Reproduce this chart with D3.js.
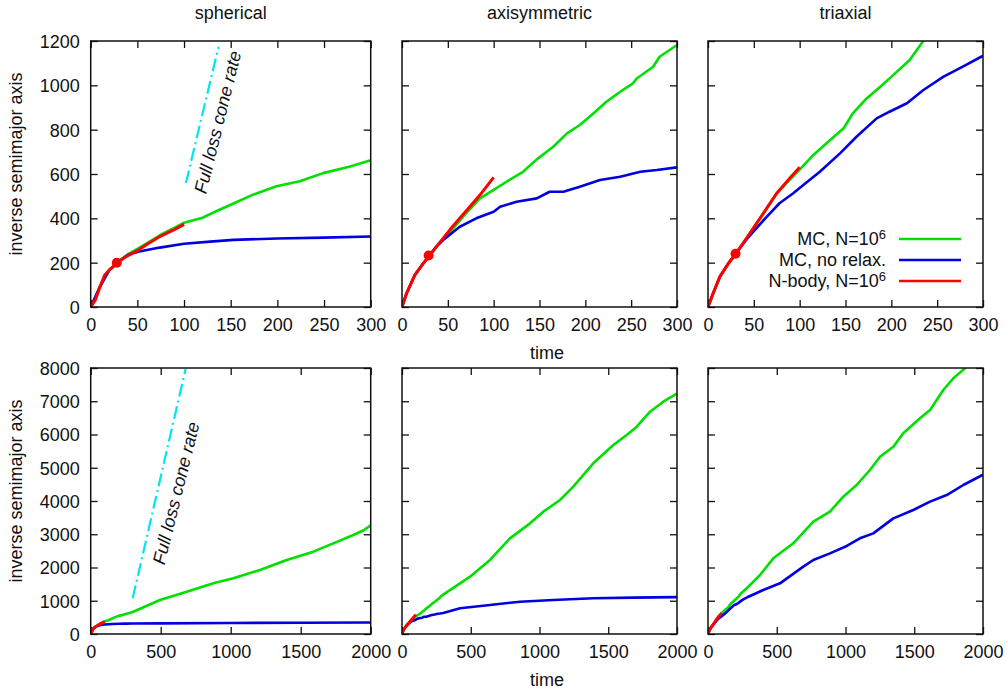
<!DOCTYPE html>
<html><head><meta charset="utf-8">
<script src="https://cdn.jsdelivr.net/npm/d3@7"></script>
<style>
body{margin:0;background:#fff;}
svg{font-family:"Liberation Sans",Arial,Helvetica,sans-serif;}
</style></head><body>
<svg id="c" width="1007" height="689"></svg>
<script>
// ---------- data ----------
const geometries = ["spherical", "axisymmetric", "triaxial"];
const topXTicks = [0, 50, 100, 150, 200, 250, 300];
const topYTicks = [0, 200, 400, 600, 800, 1000, 1200];
const botXTicks = [0, 500, 1000, 1500, 2000];
const botYTicks = [0, 1000, 2000, 3000, 4000, 5000, 6000, 7000, 8000];
const xLabel = "time";
const yLabel = "inverse semimajor axis";
const legendLabels = ["MC, N=10", "MC, no relax.", "N-body, N=10"];
const annotation = "Full loss cone rate";

// spherical
const sphRed = [[0,0],[5,32],[10,92],[15,144],[20,167],[25,185],[28,197],[30,205],[40,232],[50,254],[60,282],[75,320],[90,350],[100,373]];
const sphGreen = [[0,0],[10,92],[20,167],[30,207],[40,238],[50,262],[60,287],[75,326],[90,358],[100,380],[120,403],[135,433],[153,467],[174,507],[199,545],[224,567],[249,604],[278,634],[300,662],[495,1023],[686,1273],[876,1524],[1019,1674],[1209,1925],[1400,2226],[1590,2476],[1733,2727],[1876,2977],[1950,3120],[2000,3270]];
const sphBlue = [[0,0],[10,92],[20,167],[30,205],[40,236],[52,250],[74,268],[100,285],[128,295],[153,303],[200,309],[250,313],[300,318],[500,320],[1000,330],[1500,340],[2000,348]];
const sphMarker = [28, 200];
const sphFlcTop = [[102,559],[137,1174]];
const sphFlcBot = [[300,1075],[678,7970]];

// axisymmetric
const axiRed = [[0,0],[5,62],[14,144],[22,190],[30,232],[40,285],[52,347],[63,400],[74,452],[85,505],[100,585]];
const axiGreen = [[0,0],[5,62],[14,144],[22,190],[30,232],[40,285],[52,336],[70,423],[85,490],[100,528],[114,565],[132,610],[147,666],[165,723],[180,783],[194,821],[209,874],[223,926],[238,971],[252,1009],[256,1031],[274,1084],[281,1129],[300,1182],[495,1724],[640,2226],[785,2877],[931,3328],[1028,3679],[1149,4030],[1246,4431],[1391,5133],[1537,5684],[1634,5985],[1707,6235],[1804,6686],[1900,6987],[2000,7230]];
const axiBlue = [[0,0],[5,62],[14,144],[22,190],[30,232],[37,270],[45,302],[63,362],[81,400],[100,430],[107,452],[125,475],[147,490],[161,520],[176,520],[194,543],[216,573],[238,588],[260,610],[278,618],[300,630],[422,772],[640,872],[858,972],[1100,1023],[1391,1073],[1682,1095],[2000,1110]];
const axiMarker = [29, 232];

// triaxial
const triRed = [[0,0],[5,55],[13,137],[22,195],[30,239],[42,310],[53,377],[64,445],[75,513],[88,575],[100,630]];
const triGreen = [[0,0],[5,55],[13,137],[22,195],[30,239],[42,310],[53,377],[75,513],[100,620],[115,686],[129,738],[148,806],[158,874],[173,941],[188,994],[202,1046],[220,1114],[235,1201],[281,1374],[378,1774],[475,2276],[620,2727],[766,3378],[887,3679],[984,4130],[1081,4481],[1178,4932],[1251,5333],[1348,5634],[1420,6036],[1542,6487],[1615,6737],[1711,7338],[1784,7689],[1869,7990],[1900,8100]];
const triBlue = [[0,0],[5,55],[13,137],[22,195],[30,239],[42,305],[64,407],[78,468],[93,513],[104,550],[122,610],[144,693],[162,768],[184,851],[198,881],[217,919],[235,979],[257,1039],[278,1084],[298,1129],[402,1323],[524,1524],[693,2025],[766,2226],[887,2426],[1009,2647],[1105,2877],[1202,3027],[1348,3478],[1493,3729],[1615,3980],[1736,4180],[1857,4481],[2000,4790]];
const triMarker = [30, 240];

const colors = {green:"#00e000", blue:"#0000e0", red:"#ff0000", cyan:"#00e5ee"};

// ---------- layout ----------
const colLeft = [90.7, 402, 708];
const colWidth = [280, 275, 275];
const rowTop = [41, 368];
const rowHeight = 266;

const svg = d3.select("#c");
const font = 18;

const seriesBy = [
  {green: sphGreen, blue: sphBlue, red: sphRed, marker: sphMarker, flc: [sphFlcTop, sphFlcBot]},
  {green: axiGreen, blue: axiBlue, red: axiRed, marker: axiMarker},
  {green: triGreen, blue: triBlue, red: triRed, marker: triMarker}
];
const rows = [
  {xd:[0,300], yd:[0,1200], xt: topXTicks, yt: topYTicks},
  {xd:[0,2000], yd:[0,8000], xt: botXTicks, yt: botYTicks}
];

rows.forEach((row, r) => {
  geometries.forEach((geo, c) => {
    const L = colLeft[c], T = rowTop[r], W = colWidth[c], H = rowHeight;
    const x = d3.scaleLinear().domain(row.xd).range([L, L + W]);
    const y = d3.scaleLinear().domain(row.yd).range([T + H, T]);
    const g = svg.append("g");
    const cid = `clip${r}${c}`;
    svg.append("clipPath").attr("id", cid).append("rect")
      .attr("x", L).attr("y", T).attr("width", W).attr("height", H);

    // ticks (inward, mirrored)
    const tk = 7;
    const ax = d3.axisBottom(x).tickValues(row.xt).tickSize(-tk).tickFormat(d3.format("d"));
    const gx = g.append("g").attr("transform", `translate(0,${T + H})`).call(ax);
    gx.select(".domain").remove();
    gx.selectAll("text").attr("font-size", font).attr("fill", "#111").attr("y", 24).attr("dy", 0);
    const axT = d3.axisTop(x).tickValues(row.xt).tickSize(-tk).tickFormat("");
    const gxt = g.append("g").attr("transform", `translate(0,${T})`).call(axT);
    gxt.select(".domain").remove();
    const ay = d3.axisLeft(y).tickValues(row.yt).tickSize(-tk).tickPadding(11).tickFormat(c === 0 ? d3.format("d") : "");
    const gy = g.append("g").attr("transform", `translate(${L},0)`).call(ay);
    gy.select(".domain").remove();
    gy.selectAll("text").attr("font-size", font).attr("fill", "#111").attr("dy", "0.36em");
    const ayr = d3.axisRight(y).tickValues(row.yt).tickSize(-tk).tickFormat("");
    const gyr = g.append("g").attr("transform", `translate(${L + W},0)`).call(ayr);
    gyr.select(".domain").remove();
    g.selectAll(".tick line").attr("stroke", "#111").attr("stroke-width", 1.3);

    // data
    const line = d3.line().x(d => x(d[0])).y(d => y(d[1]));
    const s = seriesBy[c];
    const dg = g.append("g").attr("clip-path", `url(#${cid})`);
    dg.append("path").datum(s.green).attr("d", line).attr("fill", "none").attr("stroke", colors.green).attr("stroke-width", 2.6).attr("stroke-linejoin", "round");
    dg.append("path").datum(s.blue).attr("d", line).attr("fill", "none").attr("stroke", colors.blue).attr("stroke-width", 2.6).attr("stroke-linejoin", "round");
    dg.append("path").datum(s.red).attr("d", line).attr("fill", "none").attr("stroke", colors.red).attr("stroke-width", 3).attr("stroke-linejoin", "round");
    if (r === 0) {
      dg.append("circle").attr("cx", x(s.marker[0])).attr("cy", y(s.marker[1])).attr("r", 5).attr("fill", colors.red);
    }
    if (s.flc) {
      dg.append("path").datum(s.flc[r]).attr("d", line).attr("fill", "none").attr("stroke", colors.cyan)
        .attr("stroke-width", 2.2).attr("stroke-dasharray", "13,4,2,4");
      const ap = r === 0 ? [136, 834] : [609, 4240];
      g.append("text").attr("transform", `translate(${x(ap[0])},${y(ap[1])}) rotate(-76)`)
        .attr("text-anchor", "middle").attr("dy", "0.35em").attr("font-size", font).attr("font-style", "italic")
        .attr("fill", "#111").text(annotation);
    }

    // frame
    g.append("rect").attr("x", L).attr("y", T).attr("width", W).attr("height", H)
      .attr("fill", "none").attr("stroke", "#111").attr("stroke-width", 1.5);

    // titles and labels
    if (r === 0) {
      g.append("text").attr("x", L + W / 2).attr("y", 19).attr("text-anchor", "middle")
        .attr("font-size", font).attr("fill", "#111").text(geo);
    }
    if (c === 1) {
      g.append("text").attr("x", 547).attr("y", T + H + 52).attr("text-anchor", "middle")
        .attr("font-size", font).attr("fill", "#111").text(xLabel);
    }
    if (c === 0) {
      g.append("text").attr("transform", `translate(22,${T + H / 2 - 10}) rotate(-90)`)
        .attr("text-anchor", "middle").attr("font-size", font).attr("fill", "#111").text(yLabel);
    }

    // legend
    if (r === 0 && c === 2) {
      const lg = g.append("g");
      const items = [
        {t: legendLabels[0], sup: "6", col: colors.green},
        {t: legendLabels[1], sup: null, col: colors.blue},
        {t: legendLabels[2], sup: "6", col: colors.red}
      ];
      items.forEach((it, i) => {
        const yy = 239 + i * 21;
        const tx = lg.append("text").attr("x", 886).attr("y", yy).attr("dy", "0.35em")
          .attr("text-anchor", "end").attr("font-size", font).attr("fill", "#111");
        tx.append("tspan").text(it.t);
        if (it.sup) tx.append("tspan").attr("dy", "-0.45em").attr("font-size", 13).text(it.sup);
        lg.append("line").attr("x1", 899).attr("x2", 961).attr("y1", yy).attr("y2", yy)
          .attr("stroke", it.col).attr("stroke-width", 2.6);
      });
    }
  });
});
</script>
</body></html>
